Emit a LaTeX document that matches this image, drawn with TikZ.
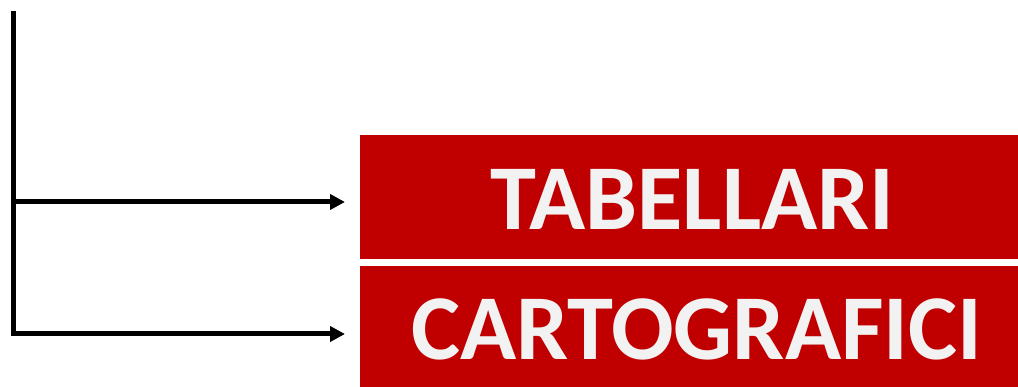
\documentclass[tikz,border=0pt]{standalone}
\usepackage{fontspec}
\newfontfamily\calib{Carlito}
\usetikzlibrary{arrows.meta}
\definecolor{boxred}{HTML}{C00000}
\definecolor{boxtext}{HTML}{F2F2F2}
\tikzset{
  redbox/.style={fill=boxred, draw=none, inner sep=0pt, minimum width=658pt},
  boxlabel/.style={text=boxtext, font=\calib\bfseries\fontsize{92.7}{92.7}\selectfont, inner sep=0pt, anchor=base},
  conn/.style={line width=5pt, -{Triangle[length=15pt,width=15pt]}},
  trunk/.style={line width=5pt}
}
\begin{document}
\begin{tikzpicture}[x=1pt,y=-1pt]
\useasboundingbox (0,0) rectangle (1018,387);
\fill[white] (0,0) rectangle (1018,387);
\node[redbox, minimum height=124.6pt] (box1) at (689,197) {};
\node[redbox, minimum height=121pt] (box2) at (689,326.5) {};
\node[boxlabel] (lab1) at (692.5,229.3) {TABELLARI};
\node[boxlabel] (lab2) at (696.7,359.3) {CARTOGRAFICI};
\coordinate (top) at (13.5,11);
\coordinate (c1) at (13.5,202);
\coordinate (c2) at (13.5,334);
\coordinate (e1) at (345,202);
\coordinate (e2) at (345,334);
\draw[trunk] (top) -- (c2);
\draw[conn] (c1) -- (e1);
\draw[conn] ([xshift=-2.5pt]c2) -- (e2);
\end{tikzpicture}
\end{document}
